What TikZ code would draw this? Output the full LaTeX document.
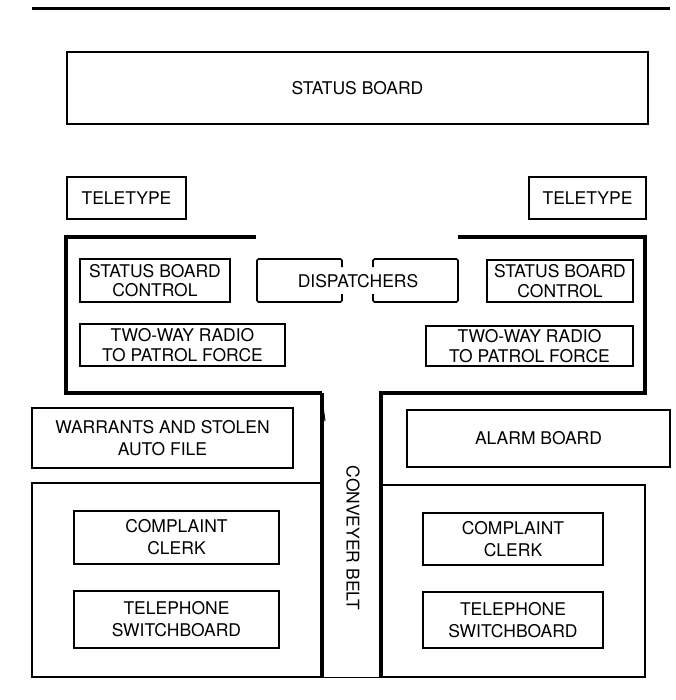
\documentclass[tikz,border=0pt]{standalone}
\usepackage{fontspec}
\setmainfont{TeX Gyre Heros}
\begin{document}
\begin{tikzpicture}[x=1pt,y=-1pt,
  lbl/.style={align=center, inner sep=0pt, font=\fontsize{17.5}{21}\selectfont},
  box/.style={lbl, draw, line width=1.7pt},
  tightbox/.style={box, font=\fontsize{17.5}{19.5}\selectfont},
  twoline/.style={box, font=\fontsize{17.5}{22}\selectfont},
  room/.style={draw, line width=1.4pt, inner sep=0pt},
  wall/.style={line width=4.5pt},
  thinline/.style={line width=1pt},
]
\useasboundingbox (0,0) rectangle (675,700);

% top rule
\coordinate (r1) at (32,9);
\coordinate (r2) at (670,9);
\draw[line width=3pt] (r1) -- (r2);

% status board
\node[box, minimum width=581pt, minimum height=72pt] (sb) at (357.5,88) {STATUS BOARD};

% teletypes
\node[box, minimum width=119pt, minimum height=42pt] (tt1) at (126.5,198) {TELETYPE};
\node[box, minimum width=117pt, minimum height=42pt] (tt2) at (587.5,198) {TELETYPE};

% dispatcher room walls
\coordinate (wl1) at (256,237);
\coordinate (wl2) at (66,237);
\coordinate (wl3) at (66,393);
\coordinate (wl4) at (322,393);
\coordinate (wl5) at (322,677);
\draw[wall] (wl1) -- (wl2) -- (wl3) -- (wl4);
\draw[wall] (wl4) -- (wl5);
\coordinate (d1) at (321,392);
\coordinate (d2) at (325,421);
\draw[thinline] (d1) -- (d2);

\coordinate (wr1) at (458,237);
\coordinate (wr2) at (645,237);
\coordinate (wr3) at (645,393);
\coordinate (wr4) at (381,393);
\coordinate (wr5) at (381,677);
\draw[wall] (wr1) -- (wr2) -- (wr3) -- (wr4) -- (wr5);

% dispatcher room contents
\node[tightbox, minimum width=150pt, minimum height=43pt] (sbc1) at (155,280.5) {STATUS BOARD\\CONTROL};
\node[tightbox, minimum width=205pt, minimum height=42pt] (radio1) at (182.5,345) {TWO-WAY RADIO\\TO PATROL FORCE};
\node[tightbox, minimum width=146pt, minimum height=42pt] (sbc2) at (560,281) {STATUS BOARD\\CONTROL};
\node[tightbox, minimum width=207pt, minimum height=40pt] (radio2) at (529.5,346) {TWO-WAY RADIO\\TO PATROL FORCE};

\node[lbl] (disp) at (358,281) {DISPATCHERS};
\coordinate (dl1) at (342,267);
\coordinate (dl2) at (342,259);
\coordinate (dl3) at (257,259);
\coordinate (dl4) at (257,302);
\coordinate (dl5) at (342,302);
\coordinate (dl6) at (342,294);
\draw[line width=1.7pt, rounded corners=1.5pt] (dl1) -- (dl2) -- (dl3) -- (dl4) -- (dl5) -- (dl6);
\coordinate (dr1) at (373,267);
\coordinate (dr2) at (373,259);
\coordinate (dr3) at (458,259);
\coordinate (dr4) at (458,302);
\coordinate (dr5) at (373,302);
\coordinate (dr6) at (373,294);
\draw[line width=1.7pt, rounded corners=1.5pt] (dr1) -- (dr2) -- (dr3) -- (dr4) -- (dr5) -- (dr6);

% lower area
\node[twoline, line width=1.4pt, minimum width=261pt, minimum height=60pt] (warr) at (162.5,438) {WARRANTS AND STOLEN\\AUTO FILE};
\node[box, line width=1.4pt, minimum width=263pt, minimum height=57pt] (alarm) at (538.5,438.5) {ALARM BOARD};

\node[room, minimum width=290pt, minimum height=194pt] (roomL) at (177,580) {};
\node[room, minimum width=264pt, minimum height=192pt] (roomR) at (513,581) {};
\draw[line width=1.4pt] (roomL.south east) -- (roomR.south west);

\node[twoline, minimum width=205pt, minimum height=53pt] (comp1) at (176.5,537.5) {COMPLAINT\\CLERK};
\node[twoline, minimum width=205pt, minimum height=57pt] (tel1) at (176.5,619.5) {TELEPHONE\\SWITCHBOARD};
\node[twoline, minimum width=180pt, minimum height=52pt] (comp2) at (513,539) {COMPLAINT\\CLERK};
\node[twoline, minimum width=180pt, minimum height=56pt] (tel2) at (513,620) {TELEPHONE\\SWITCHBOARD};

% conveyer belt
\node[lbl, rotate=-90] (belt) at (353,538) {CONVEYER BELT};
\end{tikzpicture}
\end{document}
